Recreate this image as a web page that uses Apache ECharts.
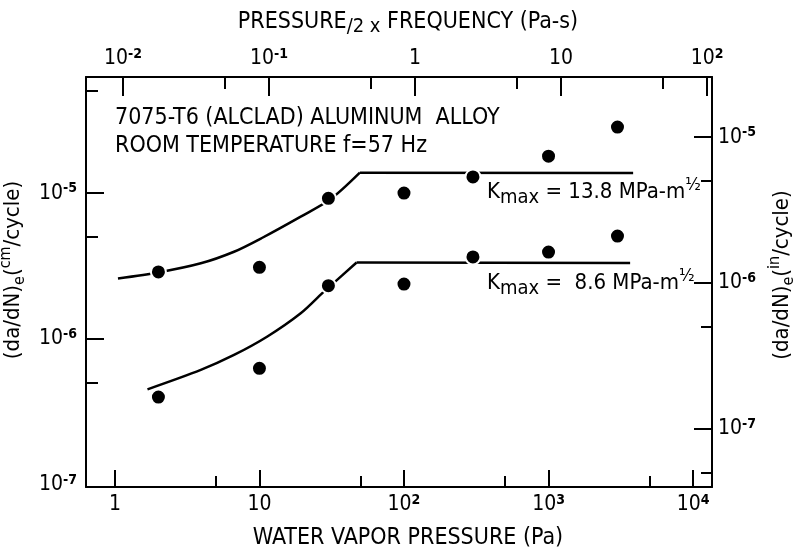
<!DOCTYPE html>
<html>
<head>
<meta charset="utf-8">
<script src="https://cdn.jsdelivr.net/npm/echarts@6/dist/echarts.min.js"></script>
<style>
html, body { margin: 0; padding: 0; background: #fff; }
#chart { width: 795px; height: 552px; }
</style>
</head>
<body>
<div id="chart"></div>
<script>
var FONT = "'Liberation Sans Narrow', 'DejaVu Sans Condensed', 'DejaVu Sans', sans-serif";

// test points: water vapor pressure (Pa) and (da/dN)e (cm/cycle)
var pressurePa = [2, 10, 30, 100, 300, 1000, 3000];
var rateK138 = [2.88e-6, 3.1e-6, 9.2e-6, 1.0e-5, 1.29e-5, 1.79e-5, 2.83e-5];
var rateK86 = [4.0e-7, 6.3e-7, 2.32e-6, 2.38e-6, 3.65e-6, 3.94e-6, 5.07e-6];

// drawn trend lines (rising part + plateau)
var riseK138X = [1.05, 2.04, 3.93, 6.67, 10.4, 19.3, 31.1, 49.5];
var riseK138Y = [2.60e-6, 2.87e-6, 3.30e-6, 3.96e-6, 4.92e-6, 6.89e-6, 9.1e-6, 1.38e-5];
var flatK138X = [49.5, 3850];
var flatK138Y = [1.38e-5, 1.37e-5];
var riseK86X = [1.68, 3.93, 6.67, 11.35, 19.3, 27.2, 31.1, 47];
var riseK86Y = [4.52e-7, 6.14e-7, 7.77e-7, 1.04e-6, 1.50e-6, 2.06e-6, 2.32e-6, 3.34e-6];
var flatK86X = [47, 3670];
var flatK86Y = [3.34e-6, 3.32e-6];

// axis ranges
var pressureRange = [0.631, 13520];
var pressureFreqRange = [0.005585, 108.1];
var rateCmRange = [9.68e-8, 6.24e-5];
var rateInRange = [4.0e-8, 2.58e-5];

// ticks and tick labels
var bottomTicks = [1, 10, 100, 1000, 10000];
var bottomLabels = ['1', '10', '10{sup|2}', '10{sup|3}', '10{sup|4}'];
var bottomMinor = [5, 50, 500, 5000];
var topTicks = [0.01, 0.1, 1, 10, 100];
var topLabels = ['10{sup|-2}', '10{sup|-1}', '1', '10', '10{sup|2}'];
var topMinor = [0.05, 0.5, 5, 50];
var leftTicks = [1e-6, 1e-5];
var leftLabelValues = [1e-7, 1e-6, 1e-5];
var leftLabels = ['10{sup|-7}', '10{sup|-6}', '10{sup|-5}'];
var leftMinor = [5e-7, 5e-6, 5e-5];
var rightTicks = [1e-7, 1e-6, 1e-5];
var rightLabels = ['10{sup|-7}', '10{sup|-6}', '10{sup|-5}'];
var rightMinor = [5e-8, 5e-7, 5e-6];

function pickLabel(values, labels) {
    return function (v) {
        for (var i = 0; i < values.length; i++) {
            if (Math.abs(v / values[i] - 1) < 1e-6) return labels[i];
        }
        return '';
    };
}
function zip(xs, ys) {
    return xs.map(function (x, i) { return [x, ys[i]]; });
}

var supRich = {
    sup: { fontSize: 14, fontWeight: 'bold', lineHeight: 13, verticalAlign: 'top', fontFamily: FONT, color: '#000' }
};
var nameRich = {
    sub: { fontSize: 16, lineHeight: 16, verticalAlign: 'bottom', fontFamily: FONT, color: '#000' },
    sup: { fontSize: 16, lineHeight: 16, verticalAlign: 'top', fontFamily: FONT, color: '#000' }
};
var kRich = {
    sub: { fontSize: 20, lineHeight: 20, verticalAlign: 'bottom', fontFamily: FONT, fill: '#000' },
    sup: { fontSize: 18, lineHeight: 17, verticalAlign: 'top', fontFamily: FONT, fill: '#000' }
};

function logAxis(pos, range, ticks, tickLen, labelVals, labels, showLine) {
    var ax = {
        type: 'log',
        logBase: 10,
        position: pos,
        min: range[0],
        max: range[1],
        splitLine: { show: false },
        axisLine: { show: showLine, onZero: false, lineStyle: { color: '#000', width: 2 } },
        axisTick: { show: true, inside: true, length: tickLen, customValues: ticks, lineStyle: { color: '#000', width: 2 } },
        axisLabel: { show: false }
    };
    if (labels) {
        ax.axisLabel = {
            show: true,
            customValues: labelVals,
            formatter: pickLabel(labelVals, labels),
            fontFamily: FONT,
            fontSize: 21,
            lineHeight: 24,
            color: '#000',
            margin: 6,
            rich: supRich
        };
    }
    return ax;
}

var chart = echarts.init(document.getElementById('chart'));

var xBottom = logAxis('bottom', pressureRange, bottomTicks, 17, bottomTicks, bottomLabels, true);
xBottom.name = 'WATER VAPOR PRESSURE (Pa)';
xBottom.nameLocation = 'middle';
xBottom.nameGap = 40;
xBottom.nameTextStyle = { fontFamily: FONT, fontSize: 23, lineHeight: 23, color: '#000', padding: [0, 0, 0, 18] };

var xTop = logAxis('top', pressureFreqRange, topTicks, 19, topTicks, topLabels, true);
xTop.name = 'PRESSURE{sub|/2 x} FREQUENCY (Pa-s)';
xTop.nameLocation = 'middle';
xTop.nameGap = 40;
xTop.nameTextStyle = {
    fontFamily: FONT, fontSize: 23, lineHeight: 30, color: '#000', padding: [0, 0, 0, 18],
    rich: { sub: { fontSize: 20, lineHeight: 20, verticalAlign: 'bottom', fontFamily: FONT, color: '#000' } }
};

var yLeft = logAxis('left', rateCmRange, leftTicks, 18, leftLabelValues, leftLabels, true);
yLeft.axisLabel.margin = 9;
yLeft.name = '(da/dN){sub|e}({sup|cm}/cycle)';
yLeft.nameLocation = 'middle';
yLeft.nameRotate = 90;
yLeft.nameGap = 42;
yLeft.nameTextStyle = { fontFamily: FONT, fontSize: 22, lineHeight: 30, color: '#000', padding: [0, 0, 0, 24], rich: nameRich };

var yRight = logAxis('right', rateInRange, rightTicks, 18, rightTicks, rightLabels, true);
yRight.axisLabel.margin = 6;
yRight.name = '(da/dN){sub|e}({sup|in}/cycle)';
yRight.nameLocation = 'middle';
yRight.nameRotate = 90;
yRight.nameGap = 50;
yRight.nameTextStyle = { fontFamily: FONT, fontSize: 22, lineHeight: 30, color: '#000', padding: [0, 0, 0, 14], rich: nameRich };

var option = {
    backgroundColor: '#fff',
    animation: false,
    grid: { left: 86, right: 83, top: 77, bottom: 65, containLabel: false, outerBoundsMode: 'none' },
    xAxis: [
        xBottom,
        logAxis('bottom', pressureRange, bottomMinor, 11, null, null, false),
        xTop,
        logAxis('top', pressureFreqRange, topMinor, 12, null, null, false)
    ],
    yAxis: [
        yLeft,
        logAxis('left', rateCmRange, leftMinor, 12, null, null, false),
        yRight,
        logAxis('right', rateInRange, rightMinor, 11, null, null, false)
    ],
    graphic: [
        {
            type: 'text', x: 115, y: 118, z: 10,
            style: { text: '7075-T6 (ALCLAD) ALUMINUM  ALLOY', fontFamily: FONT, fontSize: 23, fill: '#000', verticalAlign: 'middle' }
        },
        {
            type: 'text', x: 115, y: 146, z: 10,
            style: { text: 'ROOM TEMPERATURE f=57 Hz', fontFamily: FONT, fontSize: 23, fill: '#000', verticalAlign: 'middle' }
        },
        {
            type: 'text', x: 487, y: 192, z: 10,
            style: {
                text: 'K{sub|max} = 13.8 MPa-m{sup|½}', fontFamily: FONT, fontSize: 22, lineHeight: 32, fill: '#000', verticalAlign: 'middle',
                rich: kRich
            }
        },
        {
            type: 'text', x: 487, y: 283, z: 10,
            style: {
                text: 'K{sub|max} =  8.6 MPa-m{sup|½}', fontFamily: FONT, fontSize: 22, lineHeight: 32, fill: '#000', verticalAlign: 'middle',
                rich: kRich
            }
        }
    ],
    series: [
        {
            name: 'K138 rise', type: 'line', xAxisIndex: 0, yAxisIndex: 0, z: 2,
            data: zip(riseK138X, riseK138Y), smooth: 0.3, showSymbol: false,
            lineStyle: { color: '#000', width: 2.5 }
        },
        {
            name: 'K138 plateau', type: 'line', xAxisIndex: 0, yAxisIndex: 0, z: 2,
            data: zip(flatK138X, flatK138Y), showSymbol: false,
            lineStyle: { color: '#000', width: 2.5 }
        },
        {
            name: 'K86 rise', type: 'line', xAxisIndex: 0, yAxisIndex: 0, z: 2,
            data: zip(riseK86X, riseK86Y), smooth: 0.3, showSymbol: false,
            lineStyle: { color: '#000', width: 2.5 }
        },
        {
            name: 'K86 plateau', type: 'line', xAxisIndex: 0, yAxisIndex: 0, z: 2,
            data: zip(flatK86X, flatK86Y), showSymbol: false,
            lineStyle: { color: '#000', width: 2.5 }
        },
        {
            name: 'Kmax 13.8', type: 'scatter', xAxisIndex: 0, yAxisIndex: 0, z: 5,
            data: zip(pressurePa, rateK138), symbol: 'circle', symbolSize: 15,
            itemStyle: { color: '#000', opacity: 1, borderColor: '#fff', borderWidth: 2 }
        },
        {
            name: 'Kmax 8.6', type: 'scatter', xAxisIndex: 0, yAxisIndex: 0, z: 5,
            data: zip(pressurePa, rateK86), symbol: 'circle', symbolSize: 15,
            itemStyle: { color: '#000', opacity: 1, borderColor: '#fff', borderWidth: 2 }
        }
    ]
};
chart.setOption(option);
window.addEventListener('resize', chart.resize);
</script>
</body>
</html>
